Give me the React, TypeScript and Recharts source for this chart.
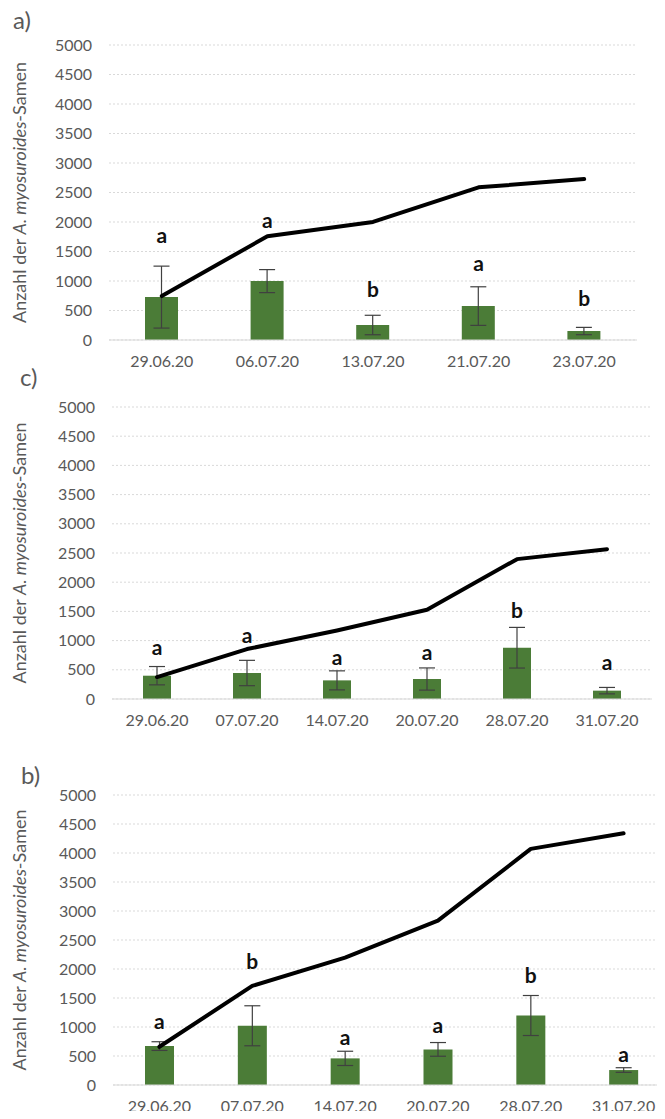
import {
  ComposedChart, Bar, Line, XAxis, YAxis, CartesianGrid, ErrorBar, LabelList
} from 'recharts'

const FONT = 'Lato, "Open Sans", sans-serif'
const GRAY = '#595959'
const GREEN = '#4b7c37'
const Y_TICKS = [0, 500, 1000, 1500, 2000, 2500, 3000, 3500, 4000, 4500, 5000]

// a)
const datesA = ['29.06.20', '06.07.20', '13.07.20', '21.07.20', '23.07.20']
const seedsA = [727, 998, 254, 575, 152]
const errA = [525, 195, 165, 327, 62]
const cumA = [744, 1759, 2001, 2587, 2728]
const lettersA = ['a', 'a', 'b', 'a', 'b']
const letterAtA = [1781, 2040, 868, 1308, 716]

// c)
const datesC = ['29.06.20', '07.07.20', '14.07.20', '20.07.20', '28.07.20', '31.07.20']
const seedsC = [399, 445, 319, 342, 878, 143]
const errC = [157, 217, 163, 190, 348, 55]
const cumC = [376, 855, 1174, 1528, 2395, 2566]
const lettersC = ['a', 'a', 'a', 'a', 'b', 'a']
const letterAtC = [900, 1100, 730, 815, 1540, 644]

// b)
const datesB = ['29.06.20', '07.07.20', '14.07.20', '20.07.20', '28.07.20', '31.07.20']
const seedsB = [671, 1021, 459, 614, 1198, 258]
const errB = [75, 345, 123, 118, 345, 40]
const cumB = [659, 1709, 2196, 2833, 4071, 4340]
const lettersB = ['a', 'b', 'a', 'a', 'b', 'a']
const letterAtB = [1118, 2150, 843, 1044, 1904, 545]

function rows(dates: string[], seeds: number[], err: number[], cum: number[], letters: string[], at: number[]) {
  return dates.map((date, i) => ({
    date, seeds: seeds[i], err: err[i], cum: cum[i], letter: letters[i], letterAt: at[i],
  }))
}

function YLabel(props: any) {
  const vb = props.viewBox || {}
  const cx = (vb.x ?? 0) + 19
  const cy = (vb.y ?? 0) + (vb.height ?? 0) / 2
  return (
    <text
      x={cx} y={cy} transform={`rotate(-90 ${cx} ${cy})`}
      textAnchor="middle" dominantBaseline="central"
      fill={GRAY} fontSize={18} fontFamily={FONT}
    >
      Anzahl der <tspan fontStyle="italic">A. myosuroides</tspan>-Samen
    </text>
  )
}

function Letter(props: any) {
  const { x, y, value } = props
  return (
    <text x={x} y={y} textAnchor="middle" dominantBaseline="central"
      fontSize={21} fontWeight="bold" fill="#111" fontFamily={FONT}>
      {value}
    </text>
  )
}

interface PanelProps {
  data: any[]
  top: number
  width: number
  height: number
  margin: { top: number, right: number, left: number, bottom: number }
  yWidth: number
  barSize: number
}

function Panel({ data, top, width, height, margin, yWidth, barSize }: PanelProps) {
  return (
    <div style={{ position: 'absolute', left: 0, top }}>
      <ComposedChart width={width} height={height} data={data} margin={margin}>
        <CartesianGrid vertical={false} stroke="#d9d9d9" strokeDasharray="2 2" />
        <XAxis
          dataKey="date" height={30} tickLine={false} tickMargin={10}
          axisLine={{ stroke: '#d9d9d9' }} interval={0}
          tick={{ fill: GRAY, fontSize: 16, fontFamily: FONT }}
        />
        <YAxis
          width={yWidth} domain={[0, 5000]} ticks={Y_TICKS} interval={0}
          axisLine={false} tickLine={false} tickMargin={11}
          tick={{ fill: GRAY, fontSize: 16, fontFamily: FONT }}
          label={(p: any) => <YLabel {...p} />}
        />
        <Bar dataKey="seeds" fill={GREEN} barSize={barSize} isAnimationActive={false}>
          <ErrorBar dataKey="err" width={8} stroke="#404040" strokeWidth={1.2} direction="y" />
        </Bar>
        <Line
          dataKey="cum" stroke="#000" strokeWidth={4} dot={false}
          strokeLinecap="round" strokeLinejoin="round" isAnimationActive={false}
        />
        <Line dataKey="letterAt" stroke="none" dot={false} activeDot={false} isAnimationActive={false}>
          <LabelList dataKey="letter" content={(p: any) => <Letter {...p} />} />
        </Line>
      </ComposedChart>
    </div>
  )
}

const tagStyle = (left: number, top: number): React.CSSProperties => ({
  position: 'absolute', left, top, fontSize: 24, lineHeight: 1, color: GRAY, fontFamily: FONT,
})

export default function App() {
  return (
    <div style={{ position: 'relative', width: 665, height: 1119, margin: -8, overflow: 'hidden', background: '#fff' }}>
      <div style={tagStyle(13, 8)}>a)</div>
      <Panel
        data={rows(datesA, seedsA, errA, cumA, lettersA, letterAtA)}
        top={0} width={665} height={385}
        margin={{ top: 45, right: 28, left: 0, bottom: 15 }}
        yWidth={109} barSize={33}
      />
      <div style={tagStyle(20, 365)}>c)</div>
      <Panel
        data={rows(datesC, seedsC, errC, cumC, lettersC, letterAtC)}
        top={365} width={665} height={374}
        margin={{ top: 42, right: 13, left: 0, bottom: 10 }}
        yWidth={112} barSize={28}
      />
      <div style={tagStyle(21, 763)}>b)</div>
      <Panel
        data={rows(datesB, seedsB, errB, cumB, lettersB, letterAtB)}
        top={750} width={690} height={369}
        margin={{ top: 45, right: 20, left: 0, bottom: 4 }}
        yWidth={113} barSize={29}
      />
    </div>
  )
}
